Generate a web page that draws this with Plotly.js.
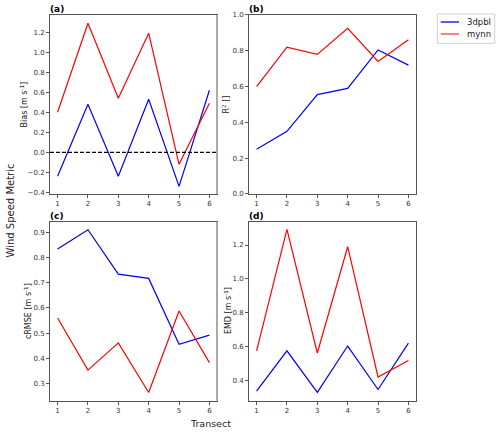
<!DOCTYPE html>
<html><head><meta charset="utf-8">
<script src="https://cdn.plot.ly/plotly-3.0.1.min.js"></script>
<style>html,body{margin:0;padding:0;background:#fff}#chart{width:500px;height:433px}</style>
</head><body><div id="chart"></div>
<script>
const transects = [1, 2, 3, 4, 5, 6];
const seriesNames = ["3dpbl", "mynn"];
const bias_3dpbl = [-0.24, 0.48, -0.24, 0.53, -0.34, 0.62];
const bias_mynn = [0.40, 1.29, 0.54, 1.19, -0.12, 0.49];
const r2_3dpbl = [0.25, 0.35, 0.555, 0.59, 0.805, 0.72];
const r2_mynn = [0.60, 0.82, 0.78, 0.925, 0.74, 0.862];
const crmse_3dpbl = [0.835, 0.912, 0.735, 0.718, 0.455, 0.492];
const crmse_mynn = [0.56, 0.352, 0.461, 0.263, 0.588, 0.382];
const emd_3dpbl = [0.337, 0.575, 0.329, 0.603, 0.346, 0.62];
const emd_mynn = [0.575, 1.292, 0.562, 1.19, 0.42, 0.518];
const tickVals = [1, 2, 3, 4, 5, 6];
const yTitles = ["Bias [m s<sup>-1</sup>]", "R<sup>2</sup> []", "cRMSE [m s<sup>-1</sup>]", "EMD [m s<sup>-1</sup>]"];
const panelLabels = ["(a)", "(b)", "(c)", "(d)"];

const blue = "#0000ff", red = "#ff0000";
function tr(y, name, color, xa, ya) {
  return {x: transects, y: y, name: name, type: "scatter", mode: "lines",
    line: {color: color, width: 1.2}, xaxis: xa, yaxis: ya, showlegend: false};
}
const data = [
  tr(bias_3dpbl, seriesNames[0], blue, "x", "y"),
  tr(bias_mynn, seriesNames[1], red, "x", "y"),
  tr(r2_3dpbl, seriesNames[0], blue, "x2", "y2"),
  tr(r2_mynn, seriesNames[1], red, "x2", "y2"),
  tr(crmse_3dpbl, seriesNames[0], blue, "x3", "y3"),
  tr(crmse_mynn, seriesNames[1], red, "x3", "y3"),
  tr(emd_3dpbl, seriesNames[0], blue, "x4", "y4"),
  tr(emd_mynn, seriesNames[1], red, "x4", "y4")
];

const font = "DejaVu Sans, sans-serif";
const tickFont = {family: font, size: 7, color: "#333"};
function xax(dom, anchor) {
  return {domain: dom, anchor: anchor, range: [0.75, 6.25], tickvals: tickVals,
    ticks: "outside", ticklen: 3, tickcolor: "#555", tickfont: tickFont,
    showline: true, mirror: true, linecolor: "#555", linewidth: 1,
    showgrid: false, zeroline: false};
}
function yax(dom, anchor, range, dtick) {
  return {domain: dom, anchor: anchor, range: range, dtick: dtick, tick0: 0,
    ticks: "outside", ticklen: 3, tickcolor: "#555", tickfont: tickFont,
    showline: true, mirror: true, linecolor: "#555", linewidth: 1,
    showgrid: false, zeroline: false, tickformat: ".1f", ticklabelstandoff: 0};
}
const xL = [0.1, 0.434], xR = [0.498, 0.832];
const yT = [0.552, 0.9654], yB = [0.075, 0.488];

const annotations = [];
const axNames = ["x", "x2", "x3", "x4"], ayNames = ["y", "y2", "y3", "y4"];
const titleX = [24, 226, 28, 228];
for (let i = 0; i < 4; i++) {
  annotations.push({text: "<b>" + panelLabels[i] + "</b>", xref: axNames[i] + " domain", yref: ayNames[i] + " domain",
    x: 0, y: 1, xanchor: "left", yanchor: "bottom", showarrow: false,
    font: {family: font, size: 9, color: "#000"}, yshift: -1, xshift: -2});
  annotations.push({text: yTitles[i], xref: "paper", yref: ayNames[i] + " domain",
    x: titleX[i] / 500, y: 0.5, textangle: -90, xanchor: "center", yanchor: "middle",
    showarrow: false, font: {family: font, size: 8, color: "#222"}});
}
annotations.push({text: "Wind Speed Metric", xref: "paper", yref: "paper", x: 0.02, y: 0.514, textangle: -90,
  showarrow: false, xanchor: "center", yanchor: "middle", font: {family: font, size: 10, color: "#222"}});
annotations.push({text: "Transect", xref: "paper", yref: "paper", x: 0.421, y: 0.0224,
  showarrow: false, xanchor: "center", yanchor: "middle", font: {family: font, size: 9.5, color: "#222"}});
// legend text
const legY = [1 - 22 / 433, 1 - 34 / 433];
const legColors = [blue, "#ff8080"];
for (let i = 0; i < 2; i++) {
  annotations.push({text: seriesNames[i], xref: "paper", yref: "paper", x: 0.929, y: legY[i],
    xanchor: "left", yanchor: "middle", showarrow: false, font: {family: font, size: 8.5, color: "#222"}});
}

const shapes = [
  {type: "line", xref: "x domain", yref: "y", x0: 0, x1: 1, y0: 0, y1: 0,
    line: {color: "#000", width: 1.2, dash: "4px,2px"}},
  {type: "line", xref: "x domain", yref: "y domain", x0: 1, x1: 1, y0: 0, y1: 1,
    line: {color: "#aaa", width: 2}},
  {type: "line", xref: "x3 domain", yref: "y3 domain", x0: 1, x1: 1, y0: 0, y1: 1,
    line: {color: "#aaa", width: 2}},
  {type: "rect", xref: "paper", yref: "paper", x0: 0.8746, x1: 0.9894, y0: 0.9, y1: 0.9677,
    line: {color: "#d0d0d0", width: 1}, fillcolor: "#fff", layer: "below"}
];
for (let i = 0; i < 2; i++) {
  shapes.push({type: "line", xref: "paper", yref: "paper", x0: 0.8814, x1: 0.918, y0: legY[i], y1: legY[i],
    line: {color: legColors[i], width: i === 0 ? 1.3 : 2}});
}

const layout = {
  width: 500, height: 433,
  margin: {l: 0, r: 0, t: 0, b: 0},
  paper_bgcolor: "#fff", plot_bgcolor: "#fff",
  font: {family: font},
  xaxis: xax(xL, "y"),
  yaxis: yax(yT, "x", [-0.4165, 1.372], 0.2),
  xaxis2: xax(xR, "y2"),
  yaxis2: yax(yT, "x2", [0, 1], 0.2),
  xaxis3: xax(xL, "y3"),
  yaxis3: yax(yB, "x3", [0.231, 0.944], 0.1),
  xaxis4: xax(xR, "y4"),
  yaxis4: yax(yB, "x4", [0.281, 1.338], 0.2),
  showlegend: false,
  shapes: shapes,
  annotations: annotations
};
Plotly.newPlot("chart", data, layout, {displayModeBar: false, staticPlot: true});
</script></body></html>
